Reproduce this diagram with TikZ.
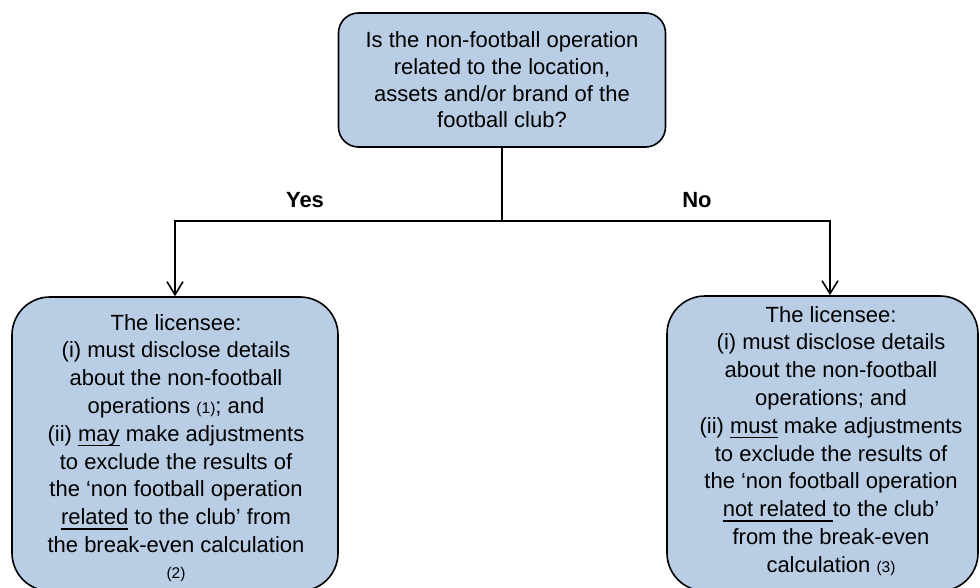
\documentclass[tikz,border=0pt]{standalone}
\usepackage{fontspec}
\setmainfont{Liberation Sans}
\usetikzlibrary{arrows.meta}
\definecolor{boxblue}{HTML}{B9CDE5}
% underline drawn as a rule at a fixed depth below the baseline
\newcommand{\ulword}[1]{\leavevmode\setbox0=\hbox{#1}\rlap{\rule[-5pt]{\wd0}{1.5pt}}\box0\relax}
% small footnote-style reference numbers
\newcommand{\refnum}[1]{{\fontsize{15.5}{15.5}\selectfont #1}}

\begin{document}
\begin{tikzpicture}[x=1pt,y=-1pt,
  panel/.style={draw=black, line width=1.6pt, fill=boxblue, inner sep=0pt},
  body/.style={font=\fontsize{22}{27.8}\selectfont, align=center, inner sep=0pt},
  answer/.style={font=\fontsize{22}{26}\selectfont\bfseries, inner sep=0pt},
  link/.style={draw=black, line width=1.6pt},
  tip/.style={-{Straight Barb[length=13pt,width=16pt]}}
]
\clip (0,0) rectangle (980,588);

% question box
\node[panel, rounded corners=20pt, minimum width=327pt, minimum height=134pt,
      font=\fontsize{22}{26.7}\selectfont, align=center]
  (question) at (502,80) {Is the non-football operation\\related to the location,\\assets and/or brand of the\\football club?};

% outcome boxes
\node[panel, rounded corners=38pt, minimum width=326pt, minimum height=294pt] (licA) at (175,444) {};
\node[panel, rounded corners=38pt, minimum width=311pt, minimum height=295pt] (licB) at (822.5,443.5) {};

\node[body, anchor=north] (textA) at (176,314) {The licensee:\\(i) must disclose details\\about the non-football\\operations \refnum{(1)}; and\\(ii) \ulword{may} make adjustments\\to exclude the results of\\the ‘non football operation\\\ulword{related} to the club’ from\\the break-even calculation\\[-2pt]\refnum{(2)}};

\node[body, anchor=north] (textB) at (831,306) {The licensee:\\(i) must disclose details\\about the non-football\\operations; and\\(ii) \ulword{must} make adjustments\\to exclude the results of\\the ‘non football operation\\\ulword{not related }to the club’\\from the break-even\\calculation \refnum{(3)}};

% branch labels
\node[answer] (yes) at (305,200) {Yes};
\node[answer] (no) at (697,200) {No};

% connectors
\coordinate (fork) at (502,221);
\draw[link] (question.south) -- (fork);
\draw[link, tip] (fork) -| (licA.north);
\draw[link, tip] (fork) -| ([xshift=7.5pt]licB.north);
\end{tikzpicture}
\end{document}
